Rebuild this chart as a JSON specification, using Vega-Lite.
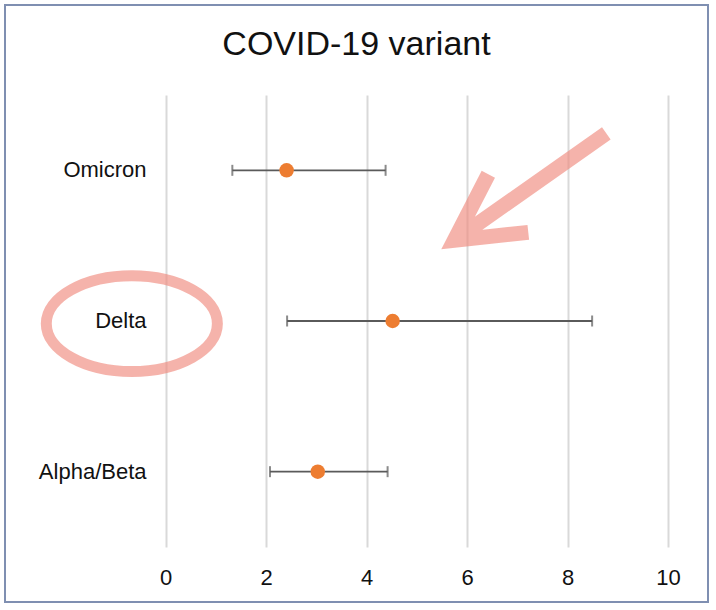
{
  "$schema": "https://vega.github.io/schema/vega-lite/v6.json",
  "width": 703,
  "height": 597,
  "autosize": {"type": "none"},
  "padding": {"left": 5, "top": 5, "right": 8, "bottom": 8},
  "background": "white",
  "title": {
    "text": "COVID-19 variant",
    "font": "Liberation Sans",
    "fontSize": 34,
    "fontWeight": "normal",
    "color": "#111111",
    "anchor": "middle",
    "frame": "group",
    "baseline": "alphabetic",
    "offset": -84
  },
  "datasets": {
    "estimates": [
      {"variant": "Omicron", "estimate": 2.41, "lower": 1.33, "upper": 4.38},
      {"variant": "Delta", "estimate": 4.52, "lower": 2.42, "upper": 8.49},
      {"variant": "Alpha/Beta", "estimate": 3.03, "lower": 2.08, "upper": 4.42}
    ],
    "highlights": [
      {"note": "ring", "variant": "Delta", "x": -0.67},
      {"note": "arrow", "variant": "Omicron", "x": 7.2}
    ]
  },
  "encoding": {
    "y": {
      "field": "variant",
      "type": "nominal",
      "sort": ["Omicron", "Delta", "Alpha/Beta"],
      "scale": {"range": [90, 542], "paddingInner": 0, "paddingOuter": 0},
      "axis": {
        "title": null,
        "orient": "left",
        "offset": -141,
        "domain": false,
        "ticks": false,
        "tickSize": 0,
        "grid": false,
        "labelPadding": 0,
        "labelAlign": "right",
        "labelBaseline": "middle",
        "labelFont": "Liberation Sans",
        "labelFontSize": 22,
        "labelColor": "#111111"
      }
    }
  },
  "layer": [
    {
      "data": {"name": "estimates"},
      "mark": {"type": "rule", "color": "#5a5a5a", "strokeWidth": 1.8},
      "encoding": {
        "x": {
          "field": "lower",
          "type": "quantitative",
          "scale": {"domain": [0, 10], "range": [160.5, 663], "nice": false, "zero": false},
          "axis": {
            "title": null,
            "orient": "top",
            "offset": -542,
            "values": [0, 2, 4, 6, 8, 10],
            "format": "d",
            "grid": true,
            "gridColor": "#d9d9d9",
            "gridWidth": 2,
            "domain": false,
            "ticks": false,
            "tickSize": 0,
            "labelFlush": false,
            "labelPadding": -30,
            "labelBaseline": "middle",
            "labelFont": "Liberation Sans",
            "labelFontSize": 22,
            "labelColor": "#111111"
          }
        },
        "x2": {"field": "upper"}
      }
    },
    {
      "data": {"name": "estimates"},
      "mark": {"type": "tick", "color": "#5a5a5a", "thickness": 2, "size": 11},
      "encoding": {"x": {"field": "lower", "type": "quantitative"}}
    },
    {
      "data": {"name": "estimates"},
      "mark": {"type": "tick", "color": "#5a5a5a", "thickness": 2, "size": 11},
      "encoding": {"x": {"field": "upper", "type": "quantitative"}}
    },
    {
      "data": {"name": "estimates"},
      "mark": {"type": "point", "shape": "circle", "filled": true, "size": 210, "color": "#ed7d31", "opacity": 1},
      "encoding": {"x": {"field": "estimate", "type": "quantitative"}}
    },
    {
      "data": {"name": "highlights"},
      "transform": [{"filter": "datum.note === 'ring'"}],
      "mark": {
        "type": "point",
        "shape": "M -0.972 0.03 A 0.972 0.545 0 1 0 0.972 0.03 A 0.972 0.545 0 1 0 -0.972 0.03 Z",
        "filled": false,
        "fill": null,
        "stroke": "#f08a7e",
        "strokeWidth": 11,
        "size": 30976,
        "opacity": 0.65
      },
      "encoding": {"x": {"field": "x", "type": "quantitative"}}
    },
    {
      "data": {"name": "highlights"},
      "transform": [{"filter": "datum.note === 'arrow'"}],
      "mark": {
        "type": "point",
        "shape": "M 0.878 -0.411 L -0.811 0.778 M -0.433 0.044 L -0.811 0.778 L 0.011 0.689",
        "filled": false,
        "fill": null,
        "stroke": "#f08a7e",
        "strokeWidth": 15,
        "strokeCap": "butt",
        "strokeJoin": "miter",
        "size": 32400,
        "opacity": 0.65
      },
      "encoding": {"x": {"field": "x", "type": "quantitative"}}
    }
  ],
  "config": {
    "view": {"stroke": "#7f8fb1", "strokeWidth": 2}
  }
}
